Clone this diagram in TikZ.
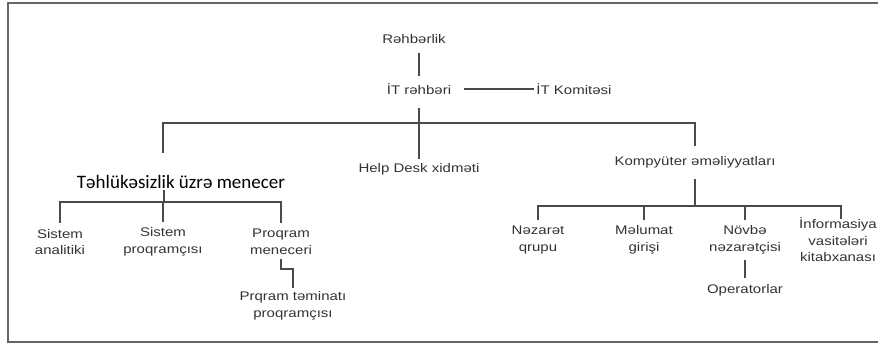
\documentclass[tikz,border=0pt]{standalone}
\usepackage{fontspec}
\newfontfamily\rolefont{Liberation Sans}[FakeStretch=1.2]
\newfontfamily\headfont{Carlito}
\definecolor{txtgray}{HTML}{333333}
\definecolor{linegray}{HTML}{4A4A4A}

\begin{document}
\begin{tikzpicture}[x=1pt,y=-1pt,
    role/.style={align=center,text=txtgray,inner sep=1pt,
                 font=\rolefont\fontsize{12.5}{16.5}\selectfont},
    link/.style={draw=linegray,line width=1.4pt},
    frame/.style={draw=gray!80!black,line width=1.5pt}]
  \useasboundingbox (0,0) rectangle (878,347);
  \draw[frame] (878,3) -- (8,3) -- (8,342) -- (878,342);

  % top of the chart
  \node[role] (lead) at (414,39) {Rəhbərlik};
  \node[role] (itboss) at (419,89) {İT rəhbəri};
  \node[role] (committee) at (574,89) {İT Komitəsi};
  \node[role] (helpdesk) at (419,169) {Help Desk xidməti};
  \node[role] (compops) at (695,162) {Kompyüter əməliyyatları};
  \node[inner sep=1pt,font=\headfont\fontsize{19}{22}\selectfont] (secmgr) at (181,182)
      {Təhlükəsizlik üzrə menecer};
  \coordinate (hub) at (419,123);
  \coordinate (secjoin) at (163,153);

  % security branch
  \node[role] (analyst) at (60,242) {Sistem\\analitiki};
  \node[role] (sysprog) at (163,242) {Sistem\\proqramçısı};
  \node[role] (manager) at (281,242) {Proqram\\meneceri};
  \node[role] (swprog) at (293,306) {Prqram təminatı\\proqramçısı};
  \coordinate (secbar) at (164,202);

  % operations branch
  \node[role] (control) at (538,240) {Nəzarət\\qrupu};
  \node[role] (dataentry) at (644,240) {Məlumat\\girişi};
  \node[role] (shift) at (745,240) {Növbə\\nəzarətçisi};
  \node[role] (library) at (838,240) {İnformasiya\\vasitələri\\kitabxanası};
  \node[role] (operators) at (745,290) {Operatorlar};
  \coordinate (opsbar) at (695,206);

  % connectors
  \draw[link,shorten <=8pt,shorten >=6pt] (itboss |- lead.south) -- (itboss);
  \draw[link,shorten <=12pt,shorten >=1pt] (itboss) -- (committee);
  \draw[link,shorten <=12pt] (itboss) -- (hub) -- ([yshift=3pt]helpdesk.north);
  \draw[link] (secjoin) |- (hub) -| ([yshift=9pt]compops.north);
  \draw[link] (secbar) -- (secbar |- secmgr.south);
  \draw[link] ([yshift=5pt]analyst.north) |- (secbar) -| ([yshift=5pt]manager.north);
  \draw[link] ([yshift=5pt]sysprog.north) -- (secbar -| sysprog);
  \draw[link] ([yshift=-3pt]manager.south) -- ++(0,10) -| ([yshift=3pt]swprog.north);
  \draw[link,shorten <=10pt] (compops) -- (opsbar);
  \draw[link] ([yshift=5pt]control.north) |- (opsbar) -| ([xshift=3pt,yshift=-2pt]library.north);
  \draw[link] ([yshift=5pt]dataentry.north) -- (opsbar -| dataentry);
  \draw[link] ([yshift=5pt]shift.north) -- (opsbar -| shift);
  \draw[link,shorten <=5pt,shorten >=5pt] (shift) -- (operators);
\end{tikzpicture}
\end{document}
